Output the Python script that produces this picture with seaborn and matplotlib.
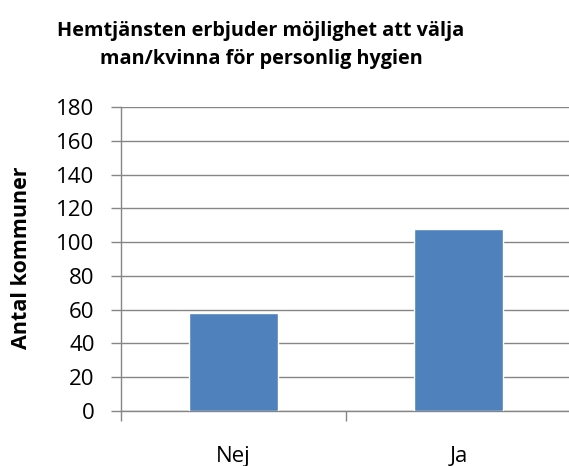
import matplotlib
matplotlib.use("Agg")
import pandas as pd
import seaborn as sns
import matplotlib.pyplot as plt

# data
svar = ["Nej", "Ja"]
antal = [58, 108]
y_ticks = [0, 20, 40, 60, 80, 100, 120, 140, 160, 180]

df = pd.DataFrame({"svar": svar, "antal": antal})

sns.set_theme(style="white")
plt.rcParams["font.family"] = ["Open Sans", "DejaVu Sans"]
plt.rcParams["text.color"] = "black"
plt.rcParams["xtick.labelcolor"] = "black"
plt.rcParams["ytick.labelcolor"] = "black"

fig = plt.figure(figsize=(5.69, 4.66), dpi=100)
# the plot area runs a little past the right edge, as in the reference
ax = fig.add_axes([121 / 569, 1 - 411 / 466, (571 - 121) / 569, (411 - 107) / 466])

grey = "#868686"
sns.barplot(data=df, x="svar", y="antal", color="#4F81BD", width=0.396,
            saturation=1, ax=ax, zorder=3)

ax.set_ylim(0, 180)
ax.set_xlim(-0.5, 1.5)
ax.set_yticks(y_ticks)
ax.yaxis.grid(True, color=grey, linewidth=1, zorder=0)
ax.set_axisbelow(True)

for side in ["top", "right"]:
    ax.spines[side].set_visible(False)
for side in ["left", "bottom"]:
    ax.spines[side].set_color(grey)
    ax.spines[side].set_linewidth(1)

ax.tick_params(axis="y", which="major", direction="out", length=7, width=1,
               color=grey, labelsize=16, pad=12, left=True, labelcolor="black")
ax.tick_params(axis="x", which="major", length=0, labelsize=16, pad=25,
               labelcolor="black")
ax.set_xticks([-0.5, 0.5, 1.5], minor=True)
ax.tick_params(axis="x", which="minor", direction="out", length=7, width=1,
               color=grey, bottom=True)

ax.set_xlabel("")
ax.set_ylabel("")
fig.text(22 / 569, 1 - 258 / 466, "Antal kommuner", rotation=90,
         ha="center", va="center", fontsize=15.5, fontweight="bold", color="black")

fig.text(261 / 569, 1 - 45 / 466, "Hemtjänsten erbjuder möjlighet att välja\nman/kvinna för personlig hygien",
         ha="center", va="center", fontsize=14.3, fontweight="bold", linespacing=1.5,
         color="black")

plt.savefig("out.png", dpi=100)
